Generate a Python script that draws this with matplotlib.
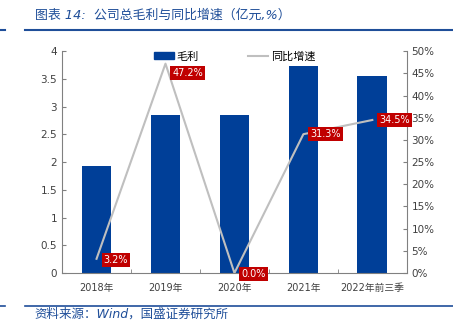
import matplotlib
matplotlib.use("Agg")
import matplotlib.pyplot as plt
from matplotlib.lines import Line2D

plt.rcParams['font.family'] = ['DejaVu Sans', 'Noto Sans CJK SC']

years = ["2018年", "2019年", "2020年", "2021年", "2022年前三季"]
gross_profit = [1.93, 2.85, 2.85, 3.74, 3.56]
growth = [3.2, 47.2, 0.0, 31.3, 34.5]

blue = "#003F98"
gray = "#BFBFBF"
red = "#C00000"
title_blue = "#1F4E99"

fig = plt.figure(figsize=(4.53, 3.36), dpi=100)
ax = fig.add_axes([0.137, 0.1875, 0.761, 0.66])

x = list(range(len(years)))
ax.bar(x, gross_profit, width=0.43, color=blue, label="毛利", zorder=2)
ax.set_xlim(-0.5, 4.5)
ax.set_ylim(0, 4)
ax.set_yticks([0, 0.5, 1, 1.5, 2, 2.5, 3, 3.5, 4])
ax.set_yticklabels(["0", "0.5", "1", "1.5", "2", "2.5", "3", "3.5", "4"])
ax.set_xticks(x)
ax.set_xticklabels(years)
ax.set_xticks([0.5, 1.5, 2.5, 3.5], minor=True)
ax.tick_params(axis='x', which='major', length=0, labelsize=7, pad=7, colors="#404040")
ax.tick_params(axis='x', which='minor', length=3, direction='in', color="#808080")
ax.tick_params(axis='y', length=3, direction='in', labelsize=7.5, colors="#404040", color="#808080")
for s in ["top", "right"]:
    ax.spines[s].set_visible(False)
for s in ["left", "bottom"]:
    ax.spines[s].set_color("#808080")

ax2 = ax.twinx()
ax2.plot(x, growth, color=gray, lw=1.5, zorder=3)
ax2.set_ylim(0, 50)
ax2.set_yticks(range(0, 51, 5))
ax2.set_yticklabels([f"{v}%" for v in range(0, 51, 5)])
ax2.tick_params(axis='y', length=3, direction='in', labelsize=7.5, colors="#404040", color="#808080")
for s in ["top", "left", "bottom"]:
    ax2.spines[s].set_visible(False)
ax2.spines["right"].set_color("#808080")

# label offsets in points (the 2019 one sits lower to clear the legend)
offsets = [(5, -1), (5, -7), (5, -1), (5, 0), (5, 0)]
for xi, g, off in zip(x, growth, offsets):
    ax2.annotate(f"{g:.1f}%", (xi, g), xytext=off, textcoords="offset points",
                 ha="left", va="center", fontsize=7, color="white",
                 bbox=dict(boxstyle="square,pad=0.2", fc=red, ec="none"), zorder=5)

handles = [plt.Rectangle((0, 0), 1, 1, color=blue),
           Line2D([0], [0], color=gray, lw=1.5)]
ax.legend(handles, ["毛利", "同比增速"], loc="upper center", bbox_to_anchor=(0.5, 1.045),
          ncol=2, frameon=False, fontsize=8, columnspacing=4.5,
          handlelength=1.8, handleheight=0.6, handletextpad=0.2)

fig.text(0.077, 0.955, "图表 14:  公司总毛利与同比增速（亿元,%）", color=title_blue,
         fontsize=9.3, style="italic", va="center")
fig.add_artist(Line2D([0.055, 1.0], [0.912, 0.912], color=title_blue, lw=1.5))
fig.add_artist(Line2D([0.0, 0.012], [0.912, 0.912], color=title_blue, lw=1.5))
fig.add_artist(Line2D([0.055, 1.0], [0.089, 0.089], color=title_blue, lw=1.2))
fig.add_artist(Line2D([0.0, 0.012], [0.089, 0.089], color=title_blue, lw=1.2))
fig.text(0.077, 0.066, "资料来源：Wind，国盛证券研究所", color=title_blue,
         fontsize=9, style="italic", va="center")

fig.savefig("out.png", dpi=100)
